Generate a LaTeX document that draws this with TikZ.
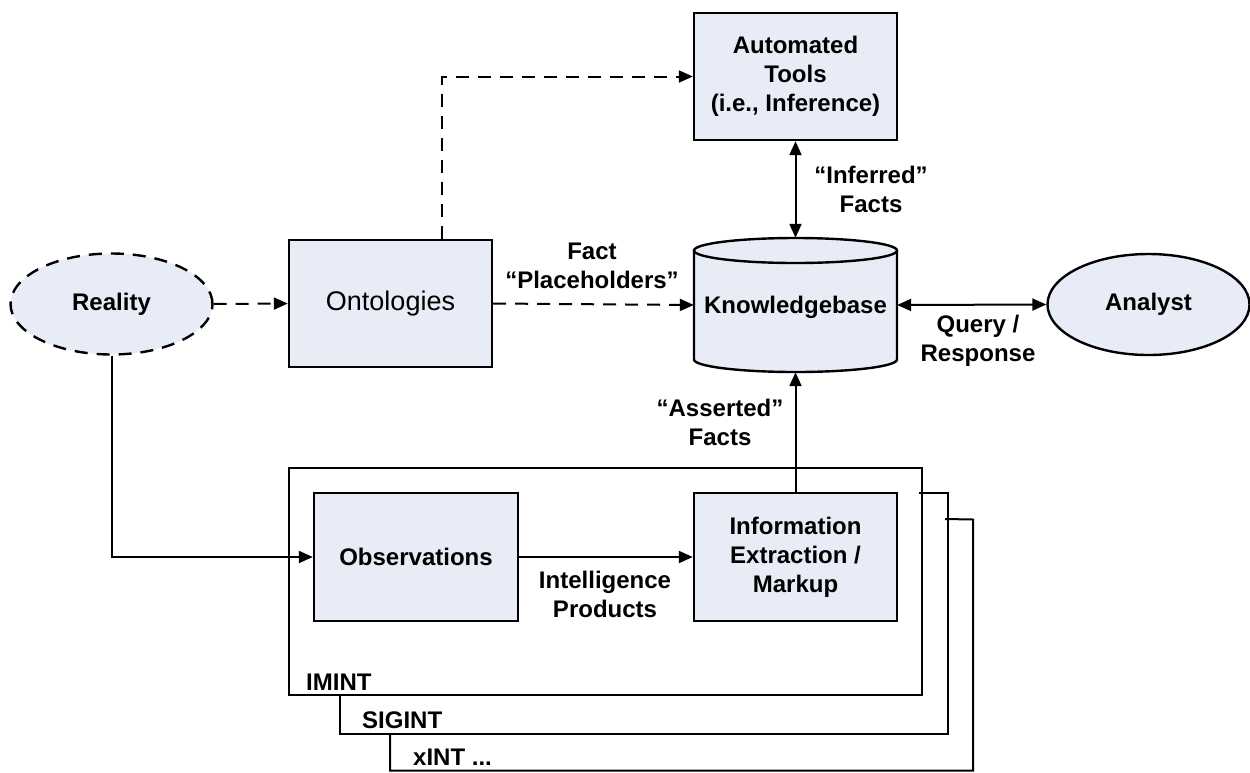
\documentclass[tikz,border=0pt]{standalone}
\usepackage{fontspec}
\setmainfont{Liberation Sans}
\usetikzlibrary{arrows.meta,calc,shapes.geometric}
\definecolor{boxfill}{RGB}{231,236,246}
\tikzset{
  lbl/.style={font=\fontsize{24}{29}\selectfont\bfseries, align=center, inner sep=0pt},
  boxnode/.style={draw, line width=2.4pt, fill=boxfill, minimum width=203pt, minimum height=127pt, inner sep=0pt, lbl},
  ellnode/.style={ellipse, draw, line width=2.4pt, fill=boxfill, minimum width=202pt, minimum height=101pt, inner sep=0pt, lbl},
  conn/.style={line width=2pt, -{Triangle[length=14pt,width=12pt]}},
  bconn/.style={line width=2pt, {Triangle[length=14pt,width=12pt]}-{Triangle[length=14pt,width=12pt]}},
  dashline/.style={dash pattern=on 13pt off 9pt},
  frameline/.style={line width=2pt},
}
\begin{document}
\begin{tikzpicture}[x=1pt,y=-1pt]
\useasboundingbox (0,0) rectangle (1250,772);

% frames
\draw[frameline] (289,468) rectangle (922,695);
\draw[frameline] (919,493) -- (948,493) -- (948,734) -- (340,734) -- (340,695);
\draw[frameline] (945,519) -- (973,519.5) -- (973,770.5) -- (390,770.5) -- (390,734);
\node[lbl, anchor=west] (imint) at (306,682) {IMINT};
\node[lbl, anchor=west] (sigint) at (362,720) {SIGINT};
\node[lbl, anchor=west] (xint) at (413,757) {xINT ...};

% nodes
\node[ellnode, dash pattern=on 13pt off 9pt] (reality) at (111.5,304) {Reality};
\node[boxnode, font=\fontsize{27}{32}\selectfont\mdseries] (onto) at (390.5,303.5) {Ontologies};
\node[boxnode] (tools) at (795.5,76.5) {Automated\\Tools\\(i.e., Inference)};
\node[ellnode] (analyst) at (1148.5,304.5) {Analyst};
\node[boxnode, minimum width=204pt, minimum height=128pt] (obs) at (416,557) {Observations};
\node[boxnode, minimum height=128pt] (iem) at (795.5,557) {Information\\Extraction /\\Markup};

% knowledgebase cylinder
\node[minimum width=203pt, minimum height=134pt, inner sep=0pt] (kb) at (795.5,305) {};
\draw[line width=2.4pt, fill=boxfill] (694,250.5) -- (694,359.5) arc[start angle=180, end angle=360, x radius=101.5pt, y radius=12.5pt] -- (897,250.5);
\draw[line width=2.4pt, fill=boxfill] (795.5,250.5) ellipse [x radius=101.5pt, y radius=12.5pt];
\node[lbl] (kbtext) at (795.5,307) {Knowledgebase};

% connectors
\draw[conn, dashline] (reality.east) -- (onto.west);
\draw[conn, dashline] ($(onto.north west)!0.75!(onto.north east)$) |- (tools.west);
\draw[conn, dashline] (onto.east) -- (kb.west);
\draw[bconn] (tools.south) -- (kb.north);
\draw[bconn] (kb.east) -- (analyst.west);
\draw[conn] (reality.south) |- (obs.west);
\draw[conn] (obs.east) -- (iem.west);
\draw[conn] (iem.north) -- (kb.south);

% labels
\node[lbl] (lplace) at (592,266) {Fact\\“Placeholders”};
\node[lbl] (linf) at (871,189) {“Inferred”\\Facts};
\node[lbl] (lquery) at (978,341) {Query /\\Response};
\node[lbl] (lassert) at (720,422) {“Asserted”\\Facts};
\node[lbl] (lintel) at (605,594) {Intelligence\\Products};
\end{tikzpicture}
\end{document}
